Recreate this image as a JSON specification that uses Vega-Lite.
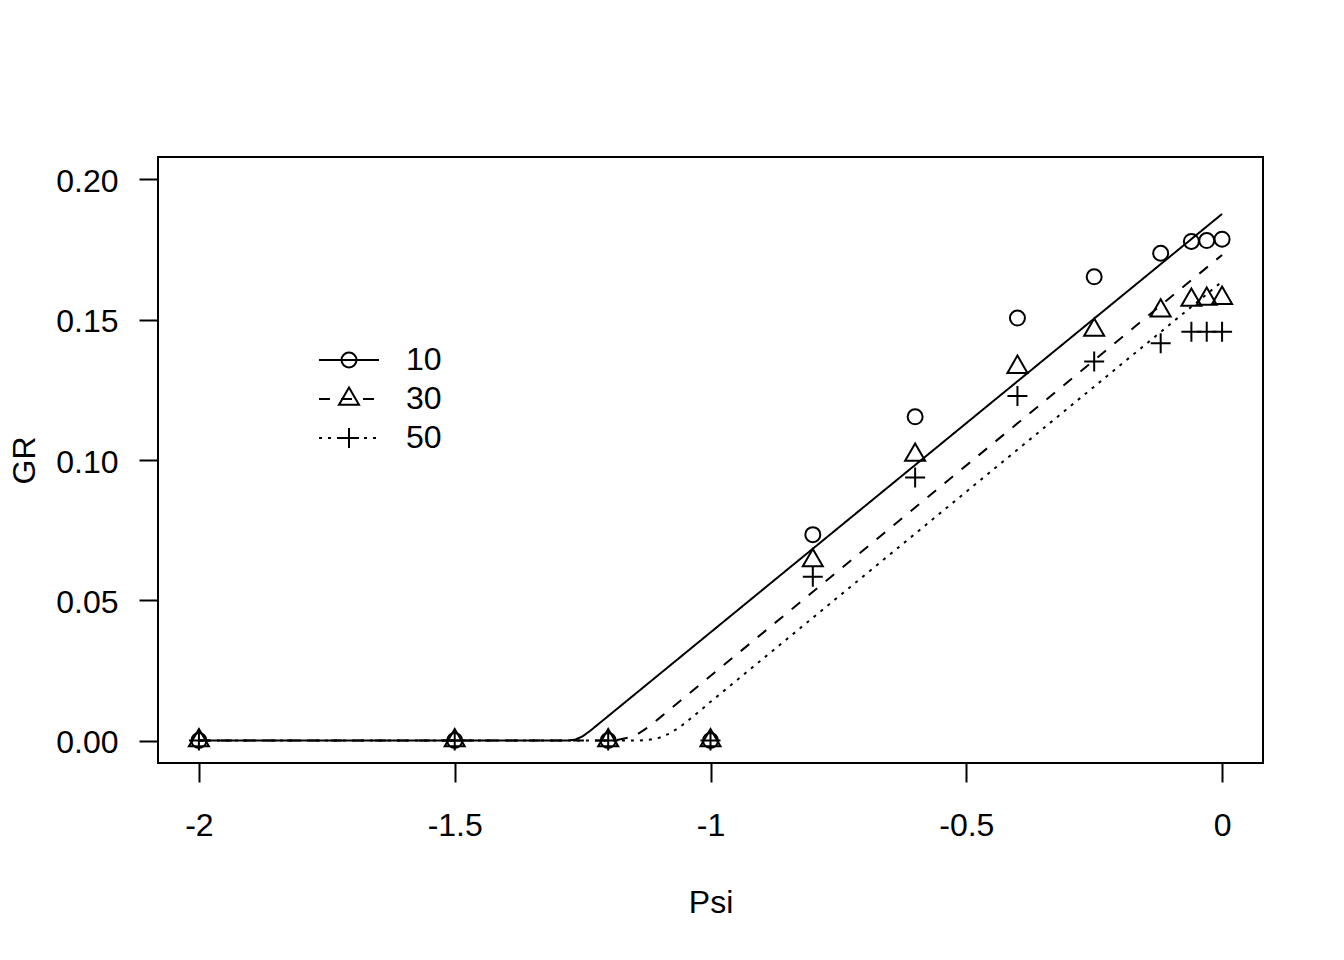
{
  "$schema": "https://vega.github.io/schema/vega-lite/v6.json",
  "width": 1105,
  "height": 606,
  "autosize": {"type": "none"},
  "padding": {"left": 158, "top": 157, "right": 81, "bottom": 197},
  "background": "white",
  "datasets": {
    "fit": [
      {"psi": -2, "gr": 0, "T": "10"},
      {"psi": -1.28, "gr": 0, "T": "10"},
      {"psi": -1.265, "gr": 0.0003, "T": "10"},
      {"psi": -1.25, "gr": 0.0015, "T": "10"},
      {"psi": -1.235, "gr": 0.0035, "T": "10"},
      {"psi": 0, "gr": 0.1877, "T": "10"},
      {"psi": -2, "gr": 0, "T": "30"},
      {"psi": -1.2, "gr": 0, "T": "30"},
      {"psi": -1.18, "gr": 0.0003, "T": "30"},
      {"psi": -1.16, "gr": 0.0011, "T": "30"},
      {"psi": -1.14, "gr": 0.0026, "T": "30"},
      {"psi": -1.12, "gr": 0.005, "T": "30"},
      {"psi": -1.1, "gr": 0.008, "T": "30"},
      {"psi": -1.08, "gr": 0.011, "T": "30"},
      {"psi": 0, "gr": 0.1731, "T": "30"},
      {"psi": -2, "gr": 0, "T": "50"},
      {"psi": -1.14, "gr": 0, "T": "50"},
      {"psi": -1.12, "gr": 0.0003, "T": "50"},
      {"psi": -1.1, "gr": 0.001, "T": "50"},
      {"psi": -1.08, "gr": 0.0025, "T": "50"},
      {"psi": -1.06, "gr": 0.0048, "T": "50"},
      {"psi": -1.04, "gr": 0.0077, "T": "50"},
      {"psi": -1.02, "gr": 0.0107, "T": "50"},
      {"psi": -1.0, "gr": 0.0138, "T": "50"},
      {"psi": 0, "gr": 0.1636, "T": "50"}
    ],
    "obs": [
      {"psi": -2, "gr": 0, "T": "10"},
      {"psi": -1.5, "gr": 0, "T": "10"},
      {"psi": -1.2, "gr": 0, "T": "10"},
      {"psi": -1, "gr": 0, "T": "10"},
      {"psi": -0.8, "gr": 0.0734, "T": "10"},
      {"psi": -0.6, "gr": 0.1154, "T": "10"},
      {"psi": -0.4, "gr": 0.1506, "T": "10"},
      {"psi": -0.25, "gr": 0.1653, "T": "10"},
      {"psi": -0.12, "gr": 0.1737, "T": "10"},
      {"psi": -0.06, "gr": 0.1779, "T": "10"},
      {"psi": -0.03, "gr": 0.1782, "T": "10"},
      {"psi": 0, "gr": 0.1787, "T": "10"},
      {"psi": -2, "gr": 0, "T": "30"},
      {"psi": -1.5, "gr": 0, "T": "30"},
      {"psi": -1.2, "gr": 0, "T": "30"},
      {"psi": -1, "gr": 0, "T": "30"},
      {"psi": -0.8, "gr": 0.0642, "T": "30"},
      {"psi": -0.6, "gr": 0.1018, "T": "30"},
      {"psi": -0.4, "gr": 0.1331, "T": "30"},
      {"psi": -0.25, "gr": 0.1463, "T": "30"},
      {"psi": -0.12, "gr": 0.1532, "T": "30"},
      {"psi": -0.06, "gr": 0.1570, "T": "30"},
      {"psi": -0.03, "gr": 0.1574, "T": "30"},
      {"psi": 0, "gr": 0.1577, "T": "30"},
      {"psi": -2, "gr": 0, "T": "50"},
      {"psi": -1.5, "gr": 0, "T": "50"},
      {"psi": -1.2, "gr": 0, "T": "50"},
      {"psi": -1, "gr": 0, "T": "50"},
      {"psi": -0.8, "gr": 0.0584, "T": "50"},
      {"psi": -0.6, "gr": 0.0938, "T": "50"},
      {"psi": -0.4, "gr": 0.1228, "T": "50"},
      {"psi": -0.25, "gr": 0.1351, "T": "50"},
      {"psi": -0.12, "gr": 0.1416, "T": "50"},
      {"psi": -0.06, "gr": 0.1457, "T": "50"},
      {"psi": -0.03, "gr": 0.1457, "T": "50"},
      {"psi": 0, "gr": 0.1457, "T": "50"}
    ]
  },
  "layer": [
    {
      "data": {"name": "fit"},
      "mark": {"type": "line", "color": "black", "strokeWidth": 2, "clip": true},
      "encoding": {
        "x": {
          "field": "psi", "type": "quantitative",
          "scale": {"domain": [-2.08, 0.08], "nice": false, "zero": false},
          "axis": {
            "title": "Psi",
            "values": [-2, -1.5, -1, -0.5, 0],
            "labelExpr": "datum.value < 0 ? '-' + format(-datum.value, '~g') : format(datum.value, '~g')",
            "labelPadding": 28,
            "titlePadding": 46
          }
        },
        "y": {
          "field": "gr", "type": "quantitative",
          "scale": {"domain": [-0.008, 0.208], "nice": false, "zero": false},
          "axis": {
            "title": "GR",
            "values": [0, 0.05, 0.1, 0.15, 0.2],
            "format": ".2f",
            "labelPadding": 21,
            "labelOffset": 2,
            "titlePadding": 14
          }
        },
        "strokeDash": {
          "field": "T", "type": "nominal",
          "scale": {"range": [[1, 0], [11, 11], [3, 6]]},
          "legend": {
            "title": null,
            "orient": "none",
            "direction": "vertical",
            "legendX": 175,
            "legendY": 187,
            "padding": 0,
            "rowPadding": 7,
            "symbolType": "M-3,0H3",
            "symbolSize": 400,
            "symbolStrokeWidth": 2,
            "symbolStrokeColor": "black",
            "labelFontSize": 32,
            "labelColor": "black",
            "labelOffset": 41
          }
        }
      }
    },
    {
      "data": {"name": "obs"},
      "mark": {"type": "point", "filled": false, "color": "black", "strokeWidth": 2, "size": 400, "opacity": 1},
      "encoding": {
        "x": {"field": "psi", "type": "quantitative"},
        "y": {"field": "gr", "type": "quantitative"},
        "shape": {
          "field": "T", "type": "nominal",
          "scale": {"range": [
            "M0.75,0C0.75,0.414 0.414,0.75 0,0.75C-0.414,0.75 -0.75,0.414 -0.75,0C-0.75,-0.414 -0.414,-0.75 0,-0.75C0.414,-0.75 0.75,-0.414 0.75,0Z",
            "M0,-1.155L-1,0.577L1,0.577Z",
            "M-1,0H1M0,-1V1"
          ]},
          "legend": {
            "title": null,
            "orient": "none",
            "direction": "vertical",
            "legendX": 175,
            "legendY": 187,
            "padding": 0,
            "rowPadding": 7,
            "symbolSize": 400,
            "symbolStrokeWidth": 2,
            "symbolStrokeColor": "black",
            "symbolFillColor": "white",
            "labelFontSize": 32,
            "labelOpacity": 0,
            "labelOffset": 41,
            "encode": {"symbols": {"update": {"fill": {"value": "white"}, "stroke": {"value": "black"}}}}
          }
        }
      }
    }
  ],
  "resolve": {"legend": {"shape": "independent", "strokeDash": "independent"}},
  "config": {
    "font": "Liberation Sans",
    "view": {"stroke": "black", "strokeWidth": 2},
    "axis": {
      "domain": false,
      "grid": false,
      "ticks": true,
      "tickSize": 19,
      "tickWidth": 2,
      "tickColor": "black",
      "labelFontSize": 32,
      "labelColor": "black",
      "labelFont": "Liberation Sans",
      "titleFont": "Liberation Sans",
      "titleFontSize": 32,
      "titleFontWeight": "normal",
      "titleColor": "black",
      "labelFlush": false,
      "labelOverlap": false
    },
    "legend": {"labelFont": "Liberation Sans"}
  }
}
